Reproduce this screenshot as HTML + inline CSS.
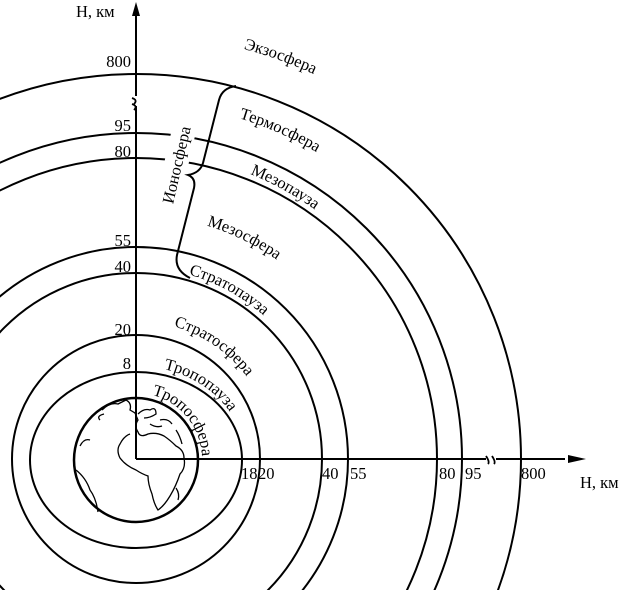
<!DOCTYPE html>
<html><head><meta charset="utf-8"><style>
html,body{margin:0;padding:0;background:#fff;width:623px;height:590px;overflow:hidden}
svg{display:block}
text{font-family:"Liberation Serif",serif;font-size:16.5px;fill:#000}
</style></head><body>
<svg width="623" height="590" viewBox="0 0 623 590" xmlns="http://www.w3.org/2000/svg">
<defs>
<path id="p1" d="M-288,459 A424,424 0 0 1 560,459"/>
<path id="p2" d="M-220,459 A356,356 0 0 1 492,459"/>
<path id="p3" d="M-171,459 A307,307 0 0 1 443,459"/>
<path id="p4" d="M-108,459 A244,244 0 0 1 380,459"/>
<path id="p5" d="M-56,459 A192,192 0 0 1 328,459"/>
<path id="p6" d="M-2,459 A138,138 0 0 1 274,459"/>
<path id="p7" d="M27,459 A109,93 0 0 1 245,459"/>
<path id="p8" d="M70,459 A66,66 0 0 1 202,459"/>
</defs>
<g fill="none" stroke="#000" stroke-width="2">
<circle cx="136" cy="459" r="385"/>
<circle cx="136" cy="459" r="326"/>
<circle cx="136" cy="459" r="301"/>
<circle cx="136" cy="459" r="212"/>
<circle cx="136" cy="459" r="186"/>
<circle cx="136" cy="459" r="124"/>
<ellipse cx="136" cy="460" rx="106" ry="88"/>
<circle cx="136" cy="460" r="62" stroke-width="2.5"/>
</g>
<g transform="translate(177,165) rotate(-77)">
<rect x="-44" y="-13" width="88" height="24" fill="#fff"/>
<text x="0" y="5" text-anchor="middle">Ионосфера</text>
</g>
<path d="M236,86 Q222,88 219,100 L203,163 Q200,173 188,175 Q196,178 194,188 L177,255 Q174,270 190,278" fill="none" stroke="#000" stroke-width="2"/>
<g fill="none" stroke="#000" stroke-width="1.3">
<path d="M102,410 Q110,402 118,404 L126,400 Q132,403 130,410 L135,413 L138,420 Q134,426 138,432 Q140,438 148,434 Q156,432 164,436 Q170,440 176,446 Q184,450 184,458 Q186,468 180,474 Q176,486 170,496 Q164,506 158,510 Q154,504 152,494 Q148,484 148,476 Q142,474 136,470 Q126,466 120,458 Q116,450 120,444 Q124,436 130,434"/>
<path d="M138,414 Q144,408 150,410 Q156,406 156,414 Q150,418 144,418"/>
<path d="M160,420 Q168,418 172,424"/>
<path d="M150,424 Q156,428 162,426"/>
<path d="M176,430 Q180,436 182,444"/>
<path d="M76,470 Q86,478 90,490 Q96,498 98,512"/>
<path d="M80,446 Q84,438 90,440"/>
<path d="M100,420 Q96,416 104,414"/>
<path d="M176,488 Q180,494 178,500"/>
</g>
<g stroke="#000" stroke-width="2" fill="none">
<path d="M136,459 L136,106"/>
<path d="M136,96 L136,12"/>
<path d="M136,459 L486,459"/>
<path d="M496,459 L565,459"/>
<path d="M132,98 Q138,100 134,104" stroke-width="1.8"/>
<path d="M132,104 Q138,106 134,110" stroke-width="1.8"/>
<path d="M486,456 Q490,462 488,464" stroke-width="1.8"/>
<path d="M492,456 Q496,462 494,464" stroke-width="1.8"/>
</g>
<path d="M136,2 L132,16 L140,16 Z" fill="#000"/>
<path d="M586,459 L568,455 L568,463 Z" fill="#000"/>
<text x="76" y="17">Н, км</text>
<text x="580" y="488">Н, км</text>
<text x="131" y="67" text-anchor="end">800</text>
<text x="131" y="131" text-anchor="end">95</text>
<text x="131" y="157" text-anchor="end">80</text>
<text x="131" y="246" text-anchor="end">55</text>
<text x="131" y="272" text-anchor="end">40</text>
<text x="131" y="335" text-anchor="end">20</text>
<text x="131" y="369" text-anchor="end">8</text>
<text x="241" y="479">18</text>
<text x="258" y="479">20</text>
<text x="322" y="479">40</text>
<text x="350" y="479">55</text>
<text x="439" y="479">80</text>
<text x="465" y="479">95</text>
<text x="521" y="479">800</text>
<text text-anchor="middle"><textPath href="#p1" startOffset="812">Экзосфера</textPath></text>
<text text-anchor="middle"><textPath href="#p2" startOffset="706">Термосфера</textPath></text>
<text text-anchor="middle"><textPath href="#p3" startOffset="636">Мезопауза</textPath></text>
<text text-anchor="middle"><textPath href="#p4" startOffset="494">Мезосфера</textPath></text>
<text text-anchor="middle"><textPath href="#p5" startOffset="398">Стратопауза</textPath></text>
<text text-anchor="middle"><textPath href="#p6" startOffset="300">Стратосфера</textPath></text>
<text text-anchor="middle"><textPath href="#p7" startOffset="227">Тропопауза</textPath></text>
<text text-anchor="middle"><textPath href="#p8" startOffset="162">Тропосфера</textPath></text>
</svg>
</body></html>
